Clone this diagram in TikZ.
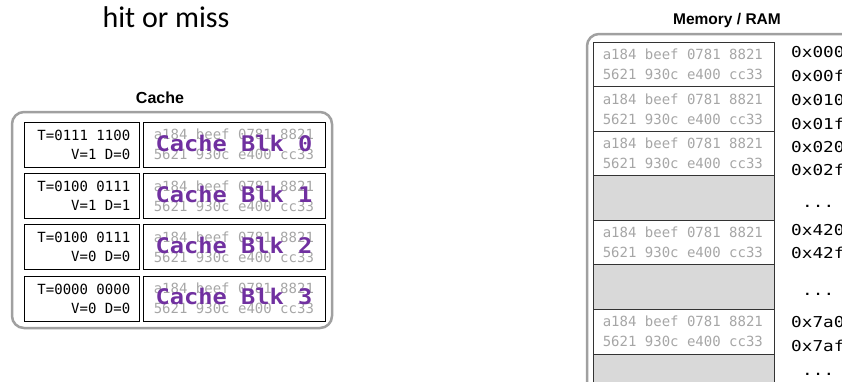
\documentclass[tikz,border=0pt]{standalone}
\usepackage{fontspec}
\setmainfont{Liberation Sans}
\newfontfamily\hitfont{Carlito}
\newfontfamily\monofont{DejaVu Sans Mono}
\newfontfamily\widemono[FakeStretch=1.18]{DejaVu Sans Mono}
\newfontfamily\blkmono[FakeStretch=1.1]{DejaVu Sans Mono}
\definecolor{blkpurple}{HTML}{7030A0}
\definecolor{datagray}{HTML}{A6A6A6}
\definecolor{framegray}{HTML}{A0A0A0}
\definecolor{emptyfill}{HTML}{D9D9D9}
\tikzset{
  frame/.style={draw=framegray, line width=2.5pt, rounded corners=12pt},
  tagbox/.style={draw=black, line width=0.8pt, minimum width=115pt, minimum height=45pt, inner sep=0pt},
  databox/.style={draw=black, line width=0.8pt, minimum width=182pt, minimum height=45pt, inner sep=0pt},
  memrow/.style={draw=black!80, line width=0.9pt, minimum width=181pt, minimum height=44.6pt, inner sep=0pt},
  memempty/.style={memrow, fill=emptyfill},
  datatext/.style={text=datagray, font={\monofont\fontsize{14}{20}\selectfont}, align=left, inner sep=0pt},
  tagtext/.style={text=black, font={\monofont\fontsize{14}{19}\selectfont}, align=right, inner sep=0pt},
  blktext/.style={text=blkpurple, font={\blkmono\bfseries\fontsize{21.5}{24}\selectfont}, inner sep=0pt},
  addr/.style={text=black, font={\widemono\fontsize{15}{18}\selectfont}, inner sep=0pt, anchor=base west},
  title/.style={font={\bfseries\fontsize{16}{19}\selectfont}, inner sep=0pt, anchor=base}
}
\begin{document}
\begin{tikzpicture}[x=1pt,y=-1pt]
\useasboundingbox (0,0) rectangle (842,381);
\clip (0,0) rectangle (842,381);

% heading
\node[font={\hitfont\fontsize{30}{36}\selectfont}, anchor=base, inner sep=0pt] (hm) at (166,27) {hit or miss};

% cache
\node[title] (cachetitle) at (160,103) {Cache};
\draw[frame] (12,112) rectangle (332,328);
\foreach \i/\tg/\vd in {0/{T=0111 1100}/{V=1 D=0},1/{T=0100 0111}/{V=1 D=1},2/{T=0100 0111}/{V=0 D=0},3/{T=0000 0000}/{V=0 D=0}}{
  \pgfmathsetmacro{\cy}{144.5+51.3*\i}
  \node[tagbox] (tag\i) at (81.5,\cy) {};
  \node[databox] (data\i) at (234,\cy) {};
  \node[tagtext, anchor=east] (tagt\i) at ([xshift=-9pt]tag\i.east) {\tg\\\vd};
  \node[datatext, anchor=west] (datat\i) at ([xshift=11pt]data\i.west) {a184 beef 0781 8821\\5621 930c e400 cc33};
  \node[blktext] (blk\i) at ([yshift=1.5pt]data\i.center) {Cache Blk \i};
}

% memory
\node[title, font={\bfseries\fontsize{15.5}{19}\selectfont}] (memtitle) at (727,24) {Memory / RAM};
\draw[frame] (587,34) rectangle (900,395);
\foreach \k/\kind in {0/memrow,1/memrow,2/memrow,3/memempty,4/memrow,5/memempty,6/memrow,7/memempty}{
  \pgfmathsetmacro{\ry}{64.3+44.57*\k}
  \node[\kind] (mem\k) at (683.5,\ry) {};
}
\foreach \k in {0,1,2,4,6}{
  \node[datatext, anchor=west] (memt\k) at ([xshift=10pt]mem\k.west) {a184 beef 0781 8821\\5621 930c e400 cc33};
}

% addresses
\node[addr] (a0) at (791,57.5) {0x000};
\node[addr] (a1) at (791,81.5) {0x00f};
\node[addr] (a2) at (791,105.5) {0x010};
\node[addr] (a3) at (791,129.5) {0x01f};
\node[addr] (a4) at (791,152.5) {0x020};
\node[addr] (a5) at (791,175.5) {0x02f};
\node[addr] (d1) at (802,207) {...};
\node[addr] (a6) at (791,235.5) {0x420};
\node[addr] (a7) at (791,258.5) {0x42f};
\node[addr] (d2) at (802,295) {...};
\node[addr] (a8) at (791,327.5) {0x7a0};
\node[addr] (a9) at (791,351.5) {0x7af};
\node[addr] (d3) at (802,375) {...};
\end{tikzpicture}
\end{document}
